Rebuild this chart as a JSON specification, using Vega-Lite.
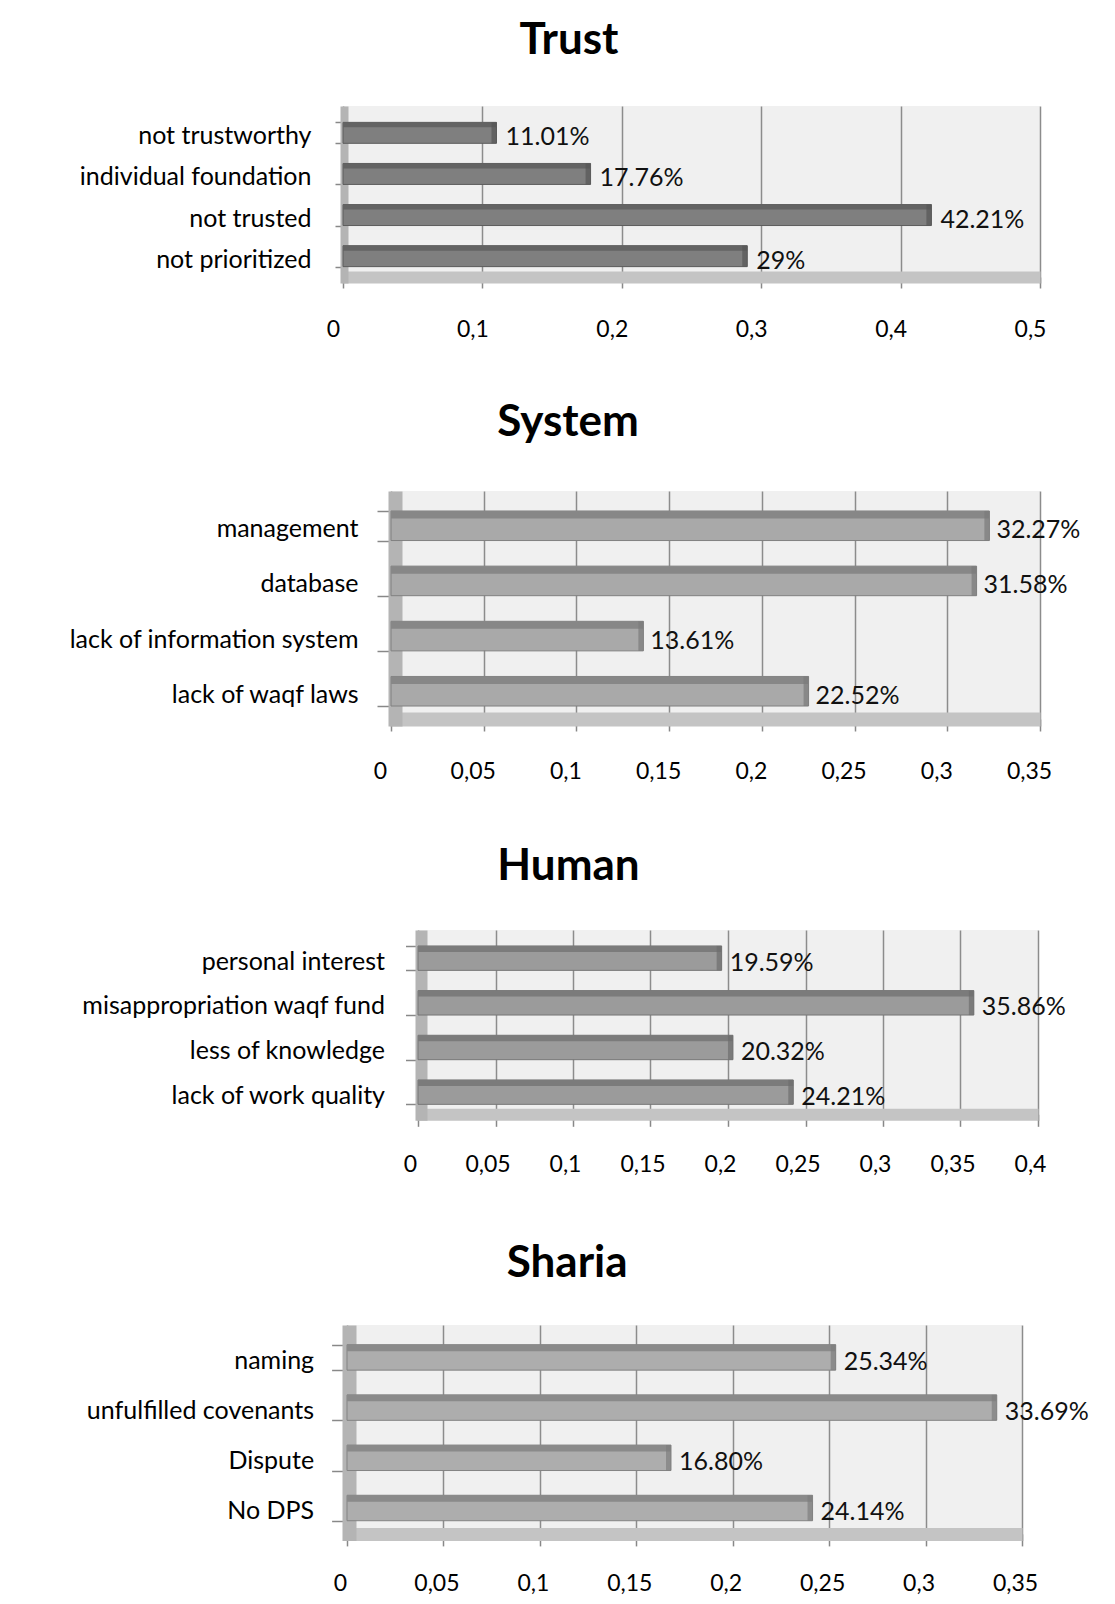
{
  "$schema": "https://vega.github.io/schema/vega-lite/v6.json",
  "padding": {"top": 19, "left": 0, "right": 0, "bottom": 0},
  "background": "white",
  "datasets": {
    "d": [
      {"panel": "Trust", "category": "not trustworthy", "value": 0.1101, "label": "11.01%"},
      {"panel": "Trust", "category": "individual foundation", "value": 0.1776, "label": "17.76%"},
      {"panel": "Trust", "category": "not trusted", "value": 0.4221, "label": "42.21%"},
      {"panel": "Trust", "category": "not prioritized", "value": 0.29, "label": "29%"},
      {"panel": "System", "category": "management", "value": 0.3227, "label": "32.27%"},
      {"panel": "System", "category": "database", "value": 0.3158, "label": "31.58%"},
      {"panel": "System", "category": "lack of information system", "value": 0.1361, "label": "13.61%"},
      {"panel": "System", "category": "lack of waqf laws", "value": 0.2252, "label": "22.52%"},
      {"panel": "Human", "category": "personal interest", "value": 0.1959, "label": "19.59%"},
      {"panel": "Human", "category": "misappropriation waqf fund", "value": 0.3586, "label": "35.86%"},
      {"panel": "Human", "category": "less of knowledge", "value": 0.2032, "label": "20.32%"},
      {"panel": "Human", "category": "lack of work quality", "value": 0.2421, "label": "24.21%"},
      {"panel": "Sharia", "category": "naming", "value": 0.2534, "label": "25.34%"},
      {"panel": "Sharia", "category": "unfulfilled covenants", "value": 0.3369, "label": "33.69%"},
      {"panel": "Sharia", "category": "Dispute", "value": 0.168, "label": "16.80%"},
      {"panel": "Sharia", "category": "No DPS", "value": 0.2414, "label": "24.14%"}
    ]
  },
  "columns": 1,
  "spacing": 0,
  "resolve": {"scale": {"x": "independent", "y": "independent"}},
  "concat": [
    {"spacing": 0, "hconcat": [
    {"width": 43, "height": 20, "data": {"values": []}, "mark": "point", "view": {"fill": null, "stroke": null}},
    {
      "width": 697, "height": 177,
      "view": {"fill": "#f0f0f0", "stroke": null},
      "title": {"text": "Trust", "dx": -122.5, "offset": 31},
      "data": {"name": "d"},
      "transform": [{"filter": "datum.panel === 'Trust'"}],
      "encoding": {
        "y": {"field": "category", "type": "nominal", "sort": null, "title": null,
          "scale": {"paddingInner": 0.49, "paddingOuter": 0.398},
          "axis": {"domain": true, "domainColor": "#b4b4b4", "domainWidth": 8, "offset": -1,
            "ticks": true, "tickBand": "extent", "tickSize": 9, "tickColor": "#888888", "tickWidth": 1.5,
            "labelPadding": 24, "labelFontSize": 25, "labelOffset": 3, "labelLimit": 0, "minExtent": 301, "maxExtent": 301, "grid": false}},
        "x": {"field": "value", "type": "quantitative", "title": null,
          "scale": {"domain": [0, 0.5], "nice": false},
          "axis": {"values": [0, 0.1, 0.2, 0.3, 0.4, 0.5], "format": "~g", "labelExpr": "replace(datum.label, '.', ',')",
            "grid": true, "gridColor": "#8c8c8c", "gridWidth": 1.5,
            "domain": true, "domainColor": "#c4c4c4", "domainWidth": 12, "offset": -6,
            "tickSize": 11, "tickColor": "#888888", "tickWidth": 1.5, "labelPadding": 30, "labelFontSize": 23, "labelOffset": -10,
            "labelFlush": false, "labelOverlap": false, "minExtent": 123.4, "maxExtent": 123.4}}
      },
      "layer": [
        {"mark": {"type": "bar", "color": "#7f7f7f", "stroke": "#5c5c5c", "strokeWidth": 1}},
        {"mark": {"type": "bar", "color": "#636363", "height": 5, "yOffset": -8}},
        {"mark": {"type": "tick", "orient": "vertical", "color": "#555555", "thickness": 5, "size": 21, "xOffset": -2.5}},
        {"mark": {"type": "text", "align": "left", "baseline": "middle", "dx": 9, "dy": 4.5, "fontSize": 25, "font": "Lato", "color": "#111111"},
          "encoding": {"text": {"field": "label"}}}
      ]
    }]},
    {"spacing": 0, "hconcat": [
    {"width": 61, "height": 20, "data": {"values": []}, "mark": "point", "view": {"fill": null, "stroke": null}},
    {
      "width": 649, "height": 235,
      "view": {"fill": "#f0f0f0", "stroke": null},
      "title": {"text": "System", "dx": -147.5, "offset": 33.7},
      "data": {"name": "d"},
      "transform": [{"filter": "datum.panel === 'System'"}],
      "encoding": {
        "y": {"field": "category", "type": "nominal", "sort": null, "title": null,
          "scale": {"paddingInner": 0.464, "paddingOuter": 0.362},
          "axis": {"domain": true, "domainColor": "#b4b4b4", "domainWidth": 14, "offset": -4,
            "ticks": true, "tickBand": "extent", "tickSize": 18, "tickColor": "#888888", "tickWidth": 1.5,
            "labelPadding": 19, "labelFontSize": 25, "labelOffset": 3, "labelLimit": 0, "minExtent": 334, "maxExtent": 334, "grid": false}},
        "x": {"field": "value", "type": "quantitative", "title": null,
          "scale": {"domain": [0, 0.35], "nice": false},
          "axis": {"values": [0, 0.05, 0.1, 0.15, 0.2, 0.25, 0.3, 0.35], "format": "~g", "labelExpr": "replace(datum.label, '.', ',')",
            "grid": true, "gridColor": "#8c8c8c", "gridWidth": 1.5,
            "domain": true, "domainColor": "#c4c4c4", "domainWidth": 14, "offset": -7,
            "tickSize": 12, "tickColor": "#888888", "tickWidth": 1.5, "labelPadding": 29, "labelFontSize": 23, "labelOffset": -11,
            "labelFlush": false, "labelOverlap": false, "minExtent": 125.3, "maxExtent": 125.3}}
      },
      "layer": [
        {"mark": {"type": "bar", "color": "#a9a9a9", "stroke": "#808080", "strokeWidth": 1}},
        {"mark": {"type": "bar", "color": "#878787", "height": 7.5, "yOffset": -11}},
        {"mark": {"type": "tick", "orient": "vertical", "color": "#7a7a7a", "thickness": 5, "size": 29.6, "xOffset": -2.5}},
        {"mark": {"type": "text", "align": "left", "baseline": "middle", "dx": 7, "dy": 4.5, "fontSize": 25, "font": "Lato", "color": "#111111"},
          "encoding": {"text": {"field": "label"}}}
      ]
    }]},
    {"spacing": 0, "hconcat": [
    {"width": 75.5, "height": 20, "data": {"values": []}, "mark": "point", "view": {"fill": null, "stroke": null}},
    {
      "width": 620, "height": 190.3,
      "view": {"fill": "#f0f0f0", "stroke": null},
      "title": {"text": "Human", "dx": -159.5, "offset": 28.7},
      "data": {"name": "d"},
      "transform": [{"filter": "datum.panel === 'Human'"}],
      "encoding": {
        "y": {"field": "category", "type": "nominal", "sort": null, "title": null,
          "scale": {"paddingInner": 0.453, "paddingOuter": 0.357},
          "axis": {"domain": true, "domainColor": "#b4b4b4", "domainWidth": 12, "offset": -3,
            "ticks": true, "tickBand": "extent", "tickSize": 15.5, "tickColor": "#888888", "tickWidth": 1.5,
            "labelPadding": 21, "labelFontSize": 25, "labelOffset": 3, "labelLimit": 0, "minExtent": 345, "maxExtent": 345, "grid": false}},
        "x": {"field": "value", "type": "quantitative", "title": null,
          "scale": {"domain": [0, 0.4], "nice": false},
          "axis": {"values": [0, 0.05, 0.1, 0.15, 0.2, 0.25, 0.3, 0.35, 0.4], "format": "~g", "labelExpr": "replace(datum.label, '.', ',')",
            "grid": true, "gridColor": "#8c8c8c", "gridWidth": 1.5,
            "domain": true, "domainColor": "#c4c4c4", "domainWidth": 12, "offset": -6,
            "tickSize": 12, "tickColor": "#888888", "tickWidth": 1.5, "labelPadding": 27, "labelFontSize": 23, "labelOffset": -8,
            "labelFlush": false, "labelOverlap": false, "minExtent": 127, "maxExtent": 127}}
      },
      "layer": [
        {"mark": {"type": "bar", "color": "#9b9b9b", "stroke": "#777777", "strokeWidth": 1}},
        {"mark": {"type": "bar", "color": "#7b7b7b", "height": 6, "yOffset": -9.25}},
        {"mark": {"type": "tick", "orient": "vertical", "color": "#6e6e6e", "thickness": 5, "size": 24.5, "xOffset": -2.5}},
        {"mark": {"type": "text", "align": "left", "baseline": "middle", "dx": 8, "dy": 4.5, "fontSize": 25, "font": "Lato", "color": "#111111"},
          "encoding": {"text": {"field": "label"}}}
      ]
    }]},
    {"spacing": 0, "hconcat": [
    {"width": 46.4, "height": 20, "data": {"values": []}, "mark": "point", "view": {"fill": null, "stroke": null}},
    {
      "width": 675, "height": 215.4,
      "view": {"fill": "#f0f0f0", "stroke": null},
      "title": {"text": "Sharia", "dx": -117.4, "offset": 27},
      "data": {"name": "d"},
      "transform": [{"filter": "datum.panel === 'Sharia'"}],
      "encoding": {
        "y": {"field": "category", "type": "nominal", "sort": null, "title": null,
          "scale": {"paddingInner": 0.493, "paddingOuter": 0.392},
          "axis": {"domain": true, "domainColor": "#b4b4b4", "domainWidth": 14, "offset": -2,
            "ticks": true, "tickBand": "extent", "tickSize": 17.4, "tickColor": "#888888", "tickWidth": 1.5,
            "labelPadding": 18, "labelFontSize": 25, "labelOffset": 3, "labelLimit": 0, "minExtent": 302, "maxExtent": 302, "grid": false}},
        "x": {"field": "value", "type": "quantitative", "title": null,
          "scale": {"domain": [0, 0.35], "nice": false},
          "axis": {"values": [0, 0.05, 0.1, 0.15, 0.2, 0.25, 0.3, 0.35], "format": "~g", "labelExpr": "replace(datum.label, '.', ',')",
            "grid": true, "gridColor": "#8c8c8c", "gridWidth": 1.5,
            "domain": true, "domainColor": "#c4c4c4", "domainWidth": 13, "offset": -6.5,
            "tickSize": 12, "tickColor": "#888888", "tickWidth": 1.5, "labelPadding": 27, "labelFontSize": 23, "labelOffset": -7,
            "labelFlush": false, "labelOverlap": false}}
      },
      "layer": [
        {"mark": {"type": "bar", "color": "#adadad", "stroke": "#838383", "strokeWidth": 1}},
        {"mark": {"type": "bar", "color": "#8a8a8a", "height": 6.5, "yOffset": -9.5}},
        {"mark": {"type": "tick", "orient": "vertical", "color": "#7d7d7d", "thickness": 5, "size": 25.5, "xOffset": -2.5}},
        {"mark": {"type": "text", "align": "left", "baseline": "middle", "dx": 8, "dy": 4.5, "fontSize": 25, "font": "Lato", "color": "#111111"},
          "encoding": {"text": {"field": "label"}}}
      ]
    }]}
  ],
  "config": {
    "view": {"fill": null, "stroke": null},
    "font": "Lato",
    "axis": {"labelFont": "Lato", "labelColor": "#000000", "titleFont": "Lato"},
    "title": {"font": "Lato", "fontSize": 44, "fontWeight": "bold", "color": "#000000", "anchor": "middle", "frame": "group"}
  }
}
